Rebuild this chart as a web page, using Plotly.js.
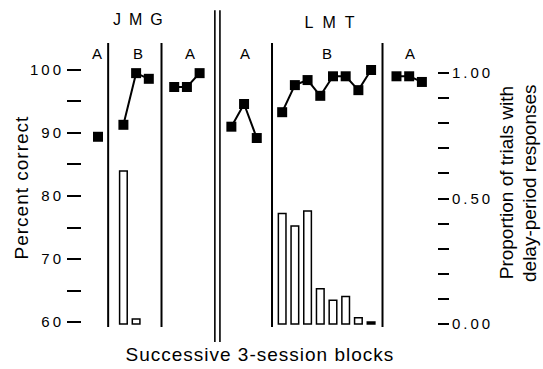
<!DOCTYPE html>
<html>
<head>
<meta charset="utf-8">
<script src="https://cdn.plot.ly/plotly-3.0.1.min.js"></script>
<style>
  html, body { margin: 0; padding: 0; background: #fff; }
  #chart { width: 543px; height: 369px; }
  .ytick text, .y2tick text { letter-spacing: 3px; }
  .annotation[data-index="0"] text { letter-spacing: 8px; }
  .annotation[data-index="1"] text { letter-spacing: 9px; }
  .annotation[data-index="8"] text { letter-spacing: 1px; }
  .annotation[data-index="11"] text { letter-spacing: 1px; }
</style>
</head>
<body>
<div id="chart"></div>
<script>
// ---- data ----
const subjects = ["JMG", "LMT"];
const phaseLabels = ["A", "B", "A", "A", "B", "A"];

// Percent correct per 3-session block, by phase
const jmgA1 = [89.4];
const jmgB  = [91.3, 99.5, 98.6];
const jmgA2 = [97.3, 97.3, 99.5];
const lmtA1 = [91.0, 94.6, 89.2];
const lmtB  = [93.3, 97.6, 98.4, 95.9, 99.0, 99.0, 96.8, 100.0];
const lmtA2 = [99.0, 99.0, 98.1];

// Proportion of trials with delay-period responses (B phases)
const jmgBars = [0.61, 0.02, null];
const lmtBars = [0.44, 0.39, 0.45, 0.14, 0.095, 0.11, 0.025, 0.008];

const leftTicks  = [60, 65, 70, 75, 80, 85, 90, 95, 100];
const leftLabels = ["60", "", "70", "", "80", "", "90", "", "100"];
const rightTicks  = [0, 0.1, 0.2, 0.3, 0.4, 0.5, 0.6, 0.7, 0.8, 0.9, 1.0];
const rightLabels = ["0.00", "", "", "", "", "0.50", "", "", "", "", "1.00"];

const yTitle   = "Percent correct";
const y2Title1 = "Proportion of trials with";
const y2Title2 = "delay-period responses";
const xTitle   = "Successive 3-session blocks";

// ---- layout of block positions (sequential, with gaps between phases) ----
const phases = [jmgA1, jmgB, jmgA2, lmtA1, lmtB, lmtA2];
const phaseStart = [1, 3, 7, 11.5, 15.5, 24.5];
const phaseX = phases.map((p, i) => p.map((_, k) => phaseStart[i] + k));

const FONT = "Liberation Sans, Arial, Helvetica, sans-serif";
const traces = [];
phases.forEach((p, i) => {
  traces.push({
    type: "scatter", mode: "lines+markers",
    x: phaseX[i], y: p, xaxis: "x", yaxis: "y",
    line: { color: "#000", width: 2 },
    marker: { symbol: "square", size: 10, color: "#000" },
    cliponaxis: false, showlegend: false, hoverinfo: "skip"
  });
});
traces.push({
  type: "bar", x: phaseX[1], y: jmgBars, xaxis: "x", yaxis: "y2", width: 0.6,
  marker: { color: "#fff", line: { color: "#000", width: 1.5 } },
  showlegend: false, hoverinfo: "skip"
});
traces.push({
  type: "bar", x: phaseX[4], y: lmtBars, xaxis: "x", yaxis: "y2", width: 0.6,
  marker: { color: lmtBars.map((v, i) => i === lmtBars.length - 1 ? "#000" : "#fff"),
            line: { color: "#000", width: 1.5 } },
  showlegend: false, hoverinfo: "skip"
});

// separators (index units)
const seps = [1.8, 6, 14.7, 23.4];
const dbl = [10.2, 10.6];
const shapes = [];
seps.forEach(s => shapes.push({ type: "line", xref: "x", yref: "paper", x0: s, x1: s, y0: 0.01, y1: 0.99,
  line: { color: "#000", width: 2 } }));
dbl.forEach(s => shapes.push({ type: "line", xref: "x", yref: "paper", x0: s, x1: s, y0: -0.041, y1: 1.103,
  line: { color: "#000", width: 1.6 } }));

function ann(o) {
  return Object.assign({ showarrow: false, xanchor: "center", yanchor: "middle" }, o);
}
const phaseLabelX = [0.92, 4.15, 8.24, 12.57, 19.03, 25.57];
const annotations = [
  ann({ text: subjects[0], x: 4.5, y: 1.069, xref: "x", yref: "paper", font: { family: FONT, size: 16, color: "#000" } }),
  ann({ text: subjects[1], x: 19.55, y: 1.062, xref: "x", yref: "paper", font: { family: FONT, size: 16, color: "#000" } })
];
phaseLabels.forEach((t, i) => annotations.push(ann({ text: t, x: phaseLabelX[i], y: 0.955, xref: "x", yref: "paper",
  font: { family: FONT, size: 15, color: "#000" } })));
annotations.push(ann({ text: yTitle, x: -0.172, y: 0.493, xref: "paper", yref: "paper", textangle: -90,
  font: { family: FONT, size: 19, color: "#000" } }));
annotations.push(ann({ text: y2Title1, x: 1.198, y: 0.507, xref: "paper", yref: "paper", textangle: -90,
  font: { family: FONT, size: 19, color: "#000" } }));
annotations.push(ann({ text: y2Title2, x: 1.262, y: 0.507, xref: "paper", yref: "paper", textangle: -90,
  font: { family: FONT, size: 19, color: "#000" } }));
annotations.push(ann({ text: xTitle, x: 0.501, y: -0.086, xref: "paper", yref: "paper",
  font: { family: FONT, size: 19, color: "#000" } }));

const layout = {
  width: 543, height: 369,
  margin: { l: 82, r: 106, t: 40, b: 39 },
  paper_bgcolor: "#fff", plot_bgcolor: "#fff",
  barmode: "overlay",
  showlegend: false,
  font: { family: FONT, color: "#000" },
  xaxis: { range: [-0.26, 27.69], showgrid: false, zeroline: false, showline: false, showticklabels: false, ticks: "" },
  yaxis: { range: [58.73, 104.76], showgrid: false, zeroline: false, showline: false,
    tickmode: "array", tickvals: leftTicks, ticktext: leftLabels, ticks: "outside", ticklen: 14, tickwidth: 2,
    tickcolor: "#000", tickfont: { family: FONT, size: 15, color: "#000" } },
  yaxis2: { range: [-0.0239, 1.1315], overlaying: "y", side: "right", showgrid: false, zeroline: false, showline: false,
    tickmode: "array", tickvals: rightTicks, ticktext: rightLabels, ticks: "outside", ticklen: 11, tickwidth: 2,
    tickcolor: "#000", tickfont: { family: FONT, size: 15, color: "#000" } },
  shapes: shapes,
  annotations: annotations
};

Plotly.newPlot("chart", traces, layout, { staticPlot: true, displayModeBar: false });
</script>
</body>
</html>
